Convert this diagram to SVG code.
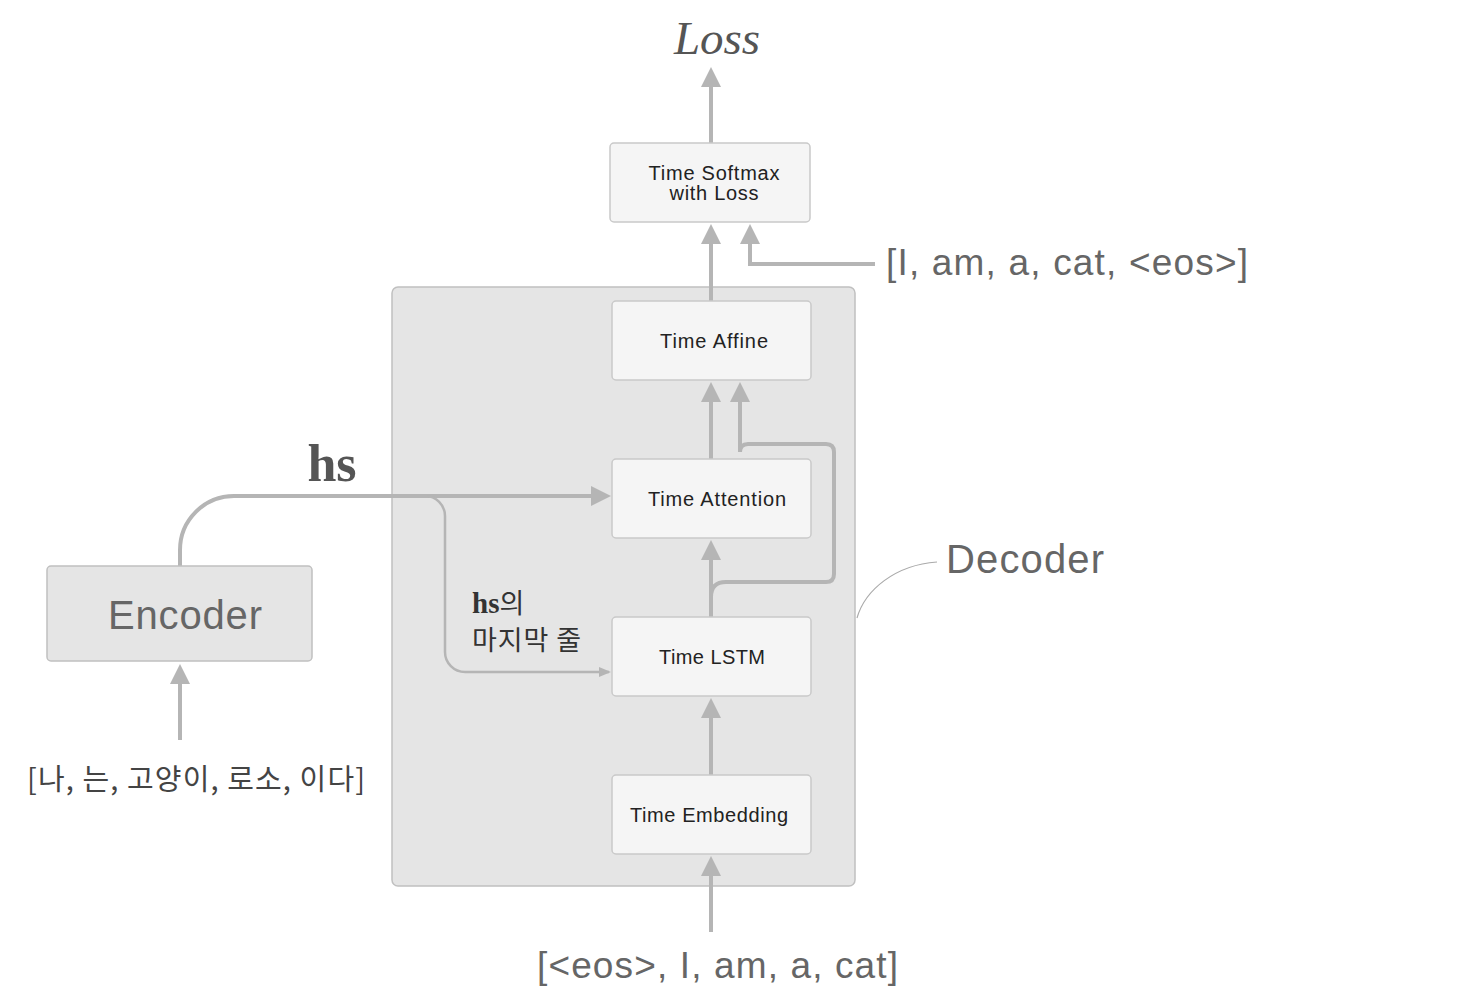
<svg xmlns="http://www.w3.org/2000/svg" width="1460" height="1002" viewBox="0 0 1460 1002">
<style>
.node rect{fill:#f5f5f5;stroke:#c9c9c9;stroke-width:1.5}
.node text{font-family:"Liberation Sans","Noto Sans",sans-serif;font-size:20px;fill:#222;text-anchor:middle}
.big{stroke:#b5b5b5;stroke-width:4;fill:none}
.thin{stroke:#b5b5b5;stroke-width:2.5;fill:none}
.lbl{font-family:"Liberation Sans","Noto Sans CJK KR",sans-serif;fill:#666}
</style>
<defs>
<marker id="ah" markerUnits="userSpaceOnUse" markerWidth="20" markerHeight="20" viewBox="0 0 20 20" refX="16" refY="10" orient="auto"><path d="M0,0 L20,10 L0,20 Z" fill="#b5b5b5"/></marker>
<marker id="ahs" markerUnits="userSpaceOnUse" markerWidth="12" markerHeight="10" viewBox="0 0 12 10" refX="10" refY="5" orient="auto"><path d="M0,0 L12,5 L0,10 Z" fill="#b5b5b5"/></marker>
</defs>
<rect width="1460" height="1002" fill="#fff"/>
<g id="decoder">
<rect x="392" y="287" width="463" height="599" rx="6" fill="#e5e5e5" stroke="#c0c0c0" stroke-width="1.5"/>
</g>
<g id="connectors">
<path class="big" d="M711,143 V71" marker-end="url(#ah)"/>
<path class="big" d="M711,301 V228" marker-end="url(#ah)"/>
<path class="big" d="M875,264 H750 V228" marker-end="url(#ah)"/>
<path class="big" d="M711,459 V386" marker-end="url(#ah)"/>
<path class="big" d="M711,617 V597 Q711,582 726,582 H826 Q834,582 834,574 V452 Q834,444 826,444 H748 Q740,444 740,452 V386" marker-end="url(#ah)"/>
<path class="big" d="M711,617 V544" marker-end="url(#ah)"/>
<path class="big" d="M711,775 V702" marker-end="url(#ah)"/>
<path class="big" d="M711,932 V860" marker-end="url(#ah)"/>
<path class="big" d="M180,740 V668" marker-end="url(#ah)"/>
<path class="big" d="M180,566 V550 A54,54 0 0 1 234,496 H607" marker-end="url(#ah)"/>
<path class="thin" d="M425,496 A20,20 0 0 1 445,516 V652 A20,20 0 0 0 465,672 H609" marker-end="url(#ahs)"/>
<path d="M937,562 C895,565 865,590 857,618" stroke="#aaa" stroke-width="1.2" fill="none"/>
</g>
<g id="softmax" class="node">
<rect x="610" y="143" width="200" height="79" rx="4"/>
<text x="714" y="180" font-size="19" textLength="131">Time Softmax</text>
<text x="714" y="200" font-size="19" textLength="89">with Loss</text>
</g>
<g id="affine" class="node">
<rect x="612" y="301" width="199" height="79" rx="4"/>
<text x="714" y="348" textLength="108">Time Affine</text>
</g>
<g id="attention" class="node">
<rect x="612" y="459" width="199" height="79" rx="4"/>
<text x="717" y="506" textLength="138">Time Attention</text>
</g>
<g id="lstm" class="node">
<rect x="612" y="617" width="199" height="79" rx="4"/>
<text x="712" y="664" textLength="106">Time LSTM</text>
</g>
<g id="embedding" class="node">
<rect x="612" y="775" width="199" height="79" rx="4"/>
<text x="709" y="822" textLength="158">Time Embedding</text>
</g>
<g id="encoder">
<rect x="47" y="566" width="265" height="95" rx="4" fill="#e5e5e5" stroke="#c0c0c0" stroke-width="1.5"/>
<text x="185" y="629" class="lbl" font-size="40" text-anchor="middle" textLength="154">Encoder</text>
</g>
<g id="labels">
<text x="717" y="54" font-family="'Liberation Serif',serif" font-style="italic" font-size="47" fill="#555" text-anchor="middle">Loss</text>
<text x="332" y="481" font-family="'Liberation Serif',serif" font-weight="bold" font-size="52" fill="#555" text-anchor="middle">hs</text>
<text x="472" y="613" fill="#333"><tspan font-family="'Liberation Serif',serif" font-weight="bold" font-size="29">hs</tspan><tspan font-family="'Noto Sans CJK KR',sans-serif" font-size="27">의</tspan></text>
<text x="472" y="650" font-family="'Noto Sans CJK KR',sans-serif" font-size="27" fill="#333" textLength="109">마지막 줄</text>
<text x="946" y="573" class="lbl" font-size="40" textLength="158">Decoder</text>
<text x="886" y="275" class="lbl" font-size="37" textLength="362">[I, am, a, cat, &lt;eos&gt;]</text>
<text x="537" y="978" class="lbl" font-size="37" textLength="361">[&lt;eos&gt;, I, am, a, cat]</text>
<text x="27" y="790" font-family="'Noto Sans CJK KR',sans-serif" font-size="29" fill="#444" textLength="338">[나, 는, 고양이, 로소, 이다]</text>
</g>
</svg>
